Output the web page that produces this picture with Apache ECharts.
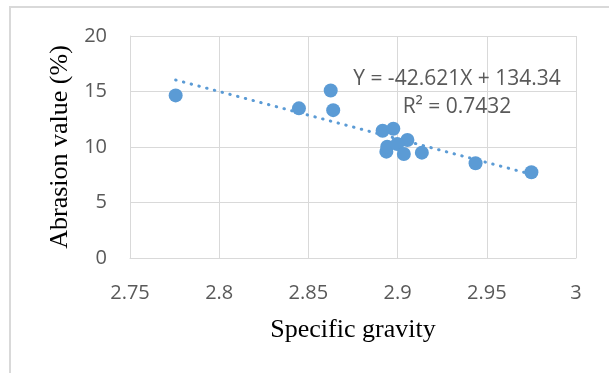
<!DOCTYPE html>
<html lang="en">
<head>
    <meta charset="UTF-8" />
    <title>Abrasion value vs specific gravity</title>
    <script src="https://cdn.jsdelivr.net/npm/echarts@6/dist/echarts.min.js"></script>
    <style>
        html, body { margin: 0; padding: 0; background: #fff; }
    </style>
</head>
<body>
<div id="main" style="width: 609px;height:373px;"></div>
<script type="text/javascript">
    // measured points
    var gravity  = [2.7756, 2.8447, 2.8625, 2.8639, 2.8916, 2.8976, 2.9055, 2.8937, 2.8942, 2.8998, 2.9035, 2.9136, 2.9437, 2.975];
    var abrasion = [14.65, 13.48, 15.09, 13.32, 11.47, 11.65, 10.63, 9.58, 10.03, 10.27, 9.37, 9.49, 8.53, 7.73];
    // linear trendline ends (first and last x)
    var trendX = [2.7756, 2.975];
    var trendY = [16.04, 7.54];
    var eqLines = ['Y = -42.621X + 134.34', 'R² = 0.7432'];

    var pts = gravity.map(function (g, i) { return [g, abrasion[i]]; });
    var trend = trendX.map(function (x, i) { return [x, trendY[i]]; });

    var myChart = echarts.init(document.getElementById('main'));
    var tickFont = { color: '#595959', fontSize: 20, fontFamily: 'Open Sans' };
    var option = {
        animation: false,
        grid: { left: 130, top: 36, right: 33, bottom: 115 },
        xAxis: {
            type: 'value',
            min: 2.75, max: 3, interval: 0.05,
            name: 'Specific gravity',
            nameLocation: 'middle',
            nameGap: 59,
            nameTextStyle: { color: '#000', fontSize: 26, fontFamily: 'Liberation Serif' },
            axisLine: { show: true, lineStyle: { color: '#d9d9d9', width: 1 } },
            axisTick: { show: false },
            axisLabel: Object.assign({ margin: 25, formatter: function (v) { return +v.toFixed(2) + ''; } }, tickFont),
            splitLine: { show: true, showMinLine: true, showMaxLine: true, lineStyle: { color: '#d9d9d9', width: 1 } }
        },
        yAxis: {
            type: 'value',
            min: 0, max: 20, interval: 5,
            name: 'Abrasion value (%)',
            nameLocation: 'middle',
            nameGap: 54,
            nameTextStyle: { color: '#000', fontSize: 26, fontFamily: 'Liberation Serif' },
            axisLine: { show: true, lineStyle: { color: '#d9d9d9', width: 1 } },
            axisTick: { show: false },
            axisLabel: Object.assign({ margin: 23 }, tickFont),
            splitLine: { show: true, showMinLine: true, showMaxLine: true, lineStyle: { color: '#d9d9d9', width: 1 } }
        },
        graphic: [
            {
                type: 'rect', silent: true,
                shape: { x: 10, y: 7, width: 700, height: 500 },
                style: { fill: 'none', stroke: '#d9d9d9', lineWidth: 2 }
            },
            {
                type: 'text', silent: true,
                x: 457, y: 79, z: 10,
                style: { text: eqLines[0], x: 0, y: 0, align: 'center', verticalAlign: 'middle',
                         fill: '#595959', fontSize: 21, fontFamily: 'Open Sans' }
            },
            {
                type: 'text', silent: true,
                x: 457, y: 107, z: 10,
                style: { text: eqLines[1], x: 0, y: 0, align: 'center', verticalAlign: 'middle',
                         fill: '#595959', fontSize: 21, fontFamily: 'Open Sans' }
            }
        ],
        series: [
            {
                type: 'line',
                data: trend,
                symbol: 'none',
                lineStyle: { color: '#5b9bd5', width: 3, type: [0.5, 7.5], cap: 'round' },
                z: 1
            },
            {
                type: 'scatter',
                data: pts,
                symbolSize: 14,
                itemStyle: { color: '#5b9bd5', opacity: 1 },
                z: 2
            }
        ]
    };
    myChart.setOption(option);
</script>
</body>
</html>
